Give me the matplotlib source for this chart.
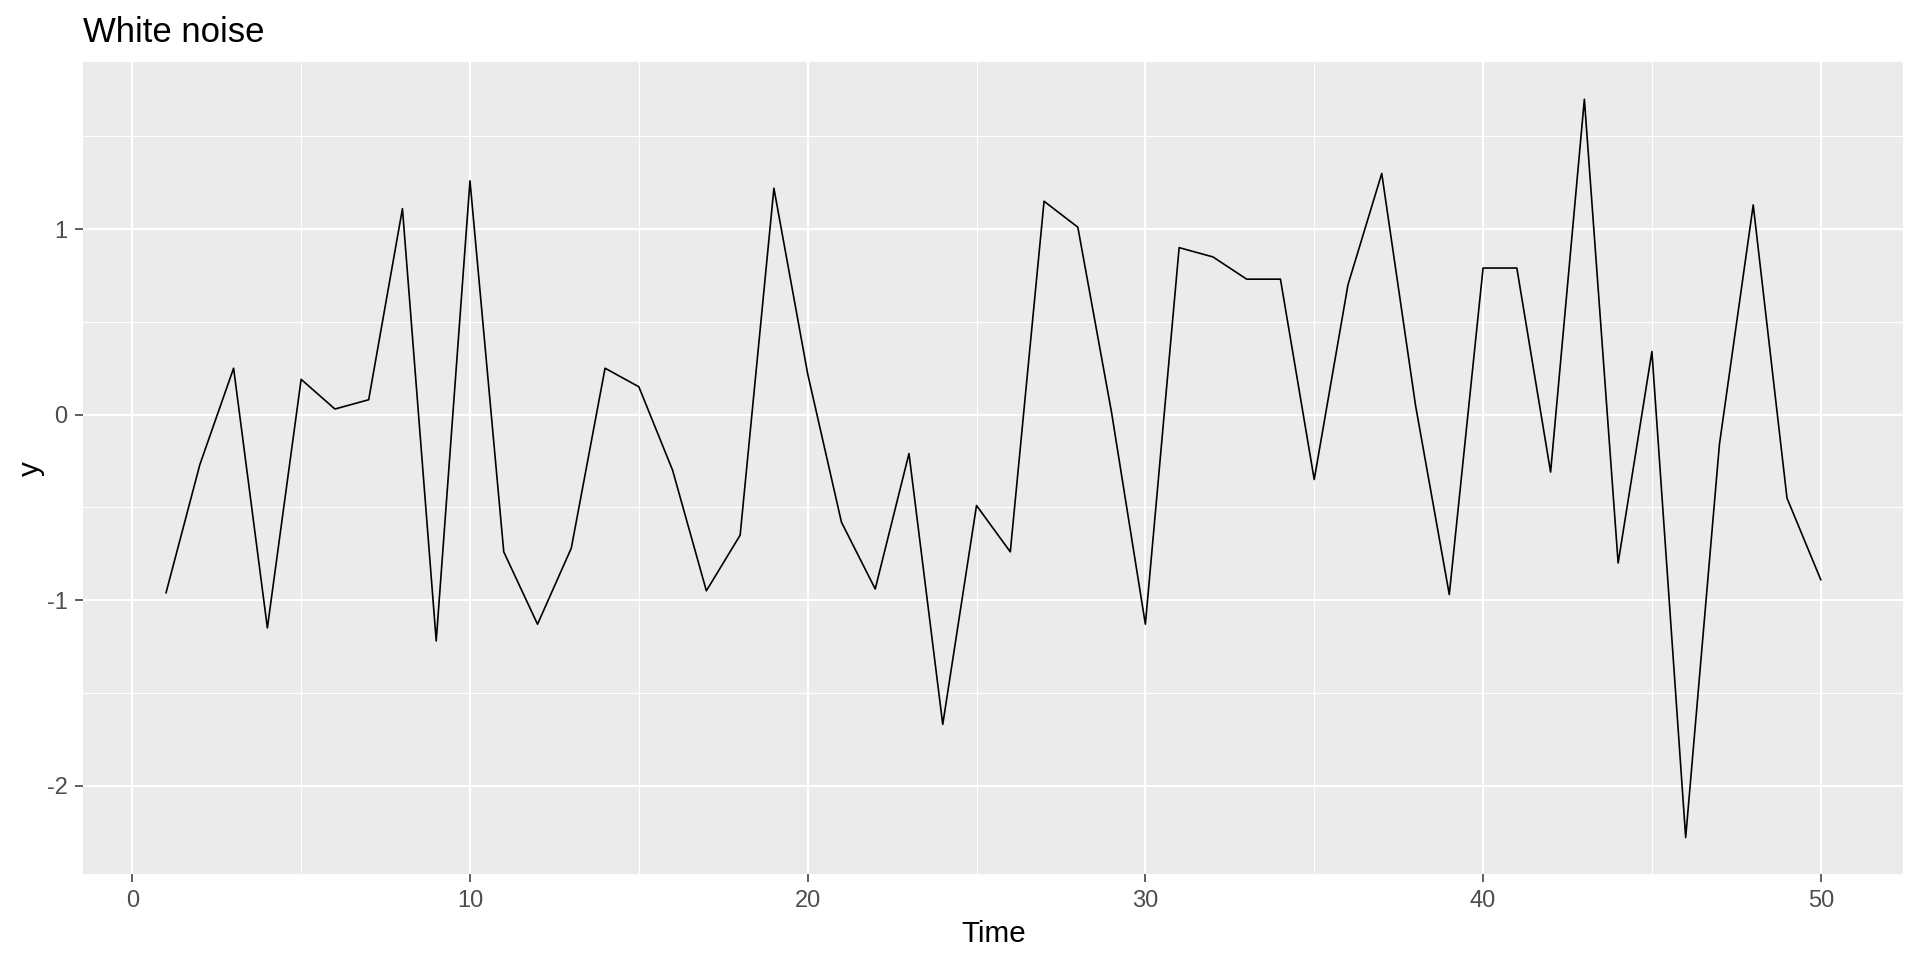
import matplotlib
matplotlib.use("Agg")
import matplotlib.pyplot as plt
from matplotlib.ticker import MultipleLocator

# white noise series
time = list(range(1, 51))
y = [-0.96, -0.27, 0.25, -1.15, 0.19, 0.03, 0.08, 1.11, -1.22, 1.26,
     -0.74, -1.13, -0.72, 0.25, 0.15, -0.30, -0.95, -0.65, 1.22, 0.22,
     -0.58, -0.94, -0.21, -1.67, -0.49, -0.74, 1.15, 1.01, 0.01, -1.13,
     0.90, 0.85, 0.73, 0.73, -0.35, 0.70, 1.30, 0.05, -0.97, 0.79,
     0.79, -0.31, 1.70, -0.80, 0.34, -2.28, -0.16, 1.13, -0.45, -0.89]

x_ticks = [0, 10, 20, 30, 40, 50]
y_ticks = [-2, -1, 0, 1]

plt.rcParams["font.family"] = ["Liberation Sans", "DejaVu Sans"]
# R prints a plain hyphen for negatives
plt.rcParams["axes.unicode_minus"] = False

fig = plt.figure(figsize=(19.2, 9.6), dpi=100)
ax = fig.add_axes([0.0434, 0.0891, 0.9480, 0.8460])

# ggplot-like grey panel
ax.set_facecolor("#EBEBEB")
for s in ax.spines.values():
    s.set_visible(False)

ax.plot(time, y, color="black", linewidth=1.2)
ax.margins(x=0.05, y=0.05)

ax.set_xticks(x_ticks)
ax.set_yticks(y_ticks)
ax.xaxis.set_minor_locator(MultipleLocator(5))
ax.yaxis.set_minor_locator(MultipleLocator(0.5))
ax.grid(which="major", color="white", linewidth=1.5)
ax.grid(which="minor", color="white", linewidth=0.75)
ax.set_axisbelow(True)

ax.tick_params(which="major", length=5.8, width=1.1, color="#333333",
               labelsize=17, labelcolor="#4D4D4D", pad=5.5)
ax.tick_params(which="minor", length=0)

ax.set_xlabel("Time", fontsize=21.3, color="black", labelpad=6)
ax.set_ylabel("y", fontsize=21.3, color="black", labelpad=1)
ax.set_title("White noise", loc="left", fontsize=25, color="black", pad=14.5)

fig.savefig("out.png", dpi=100, facecolor="white")
